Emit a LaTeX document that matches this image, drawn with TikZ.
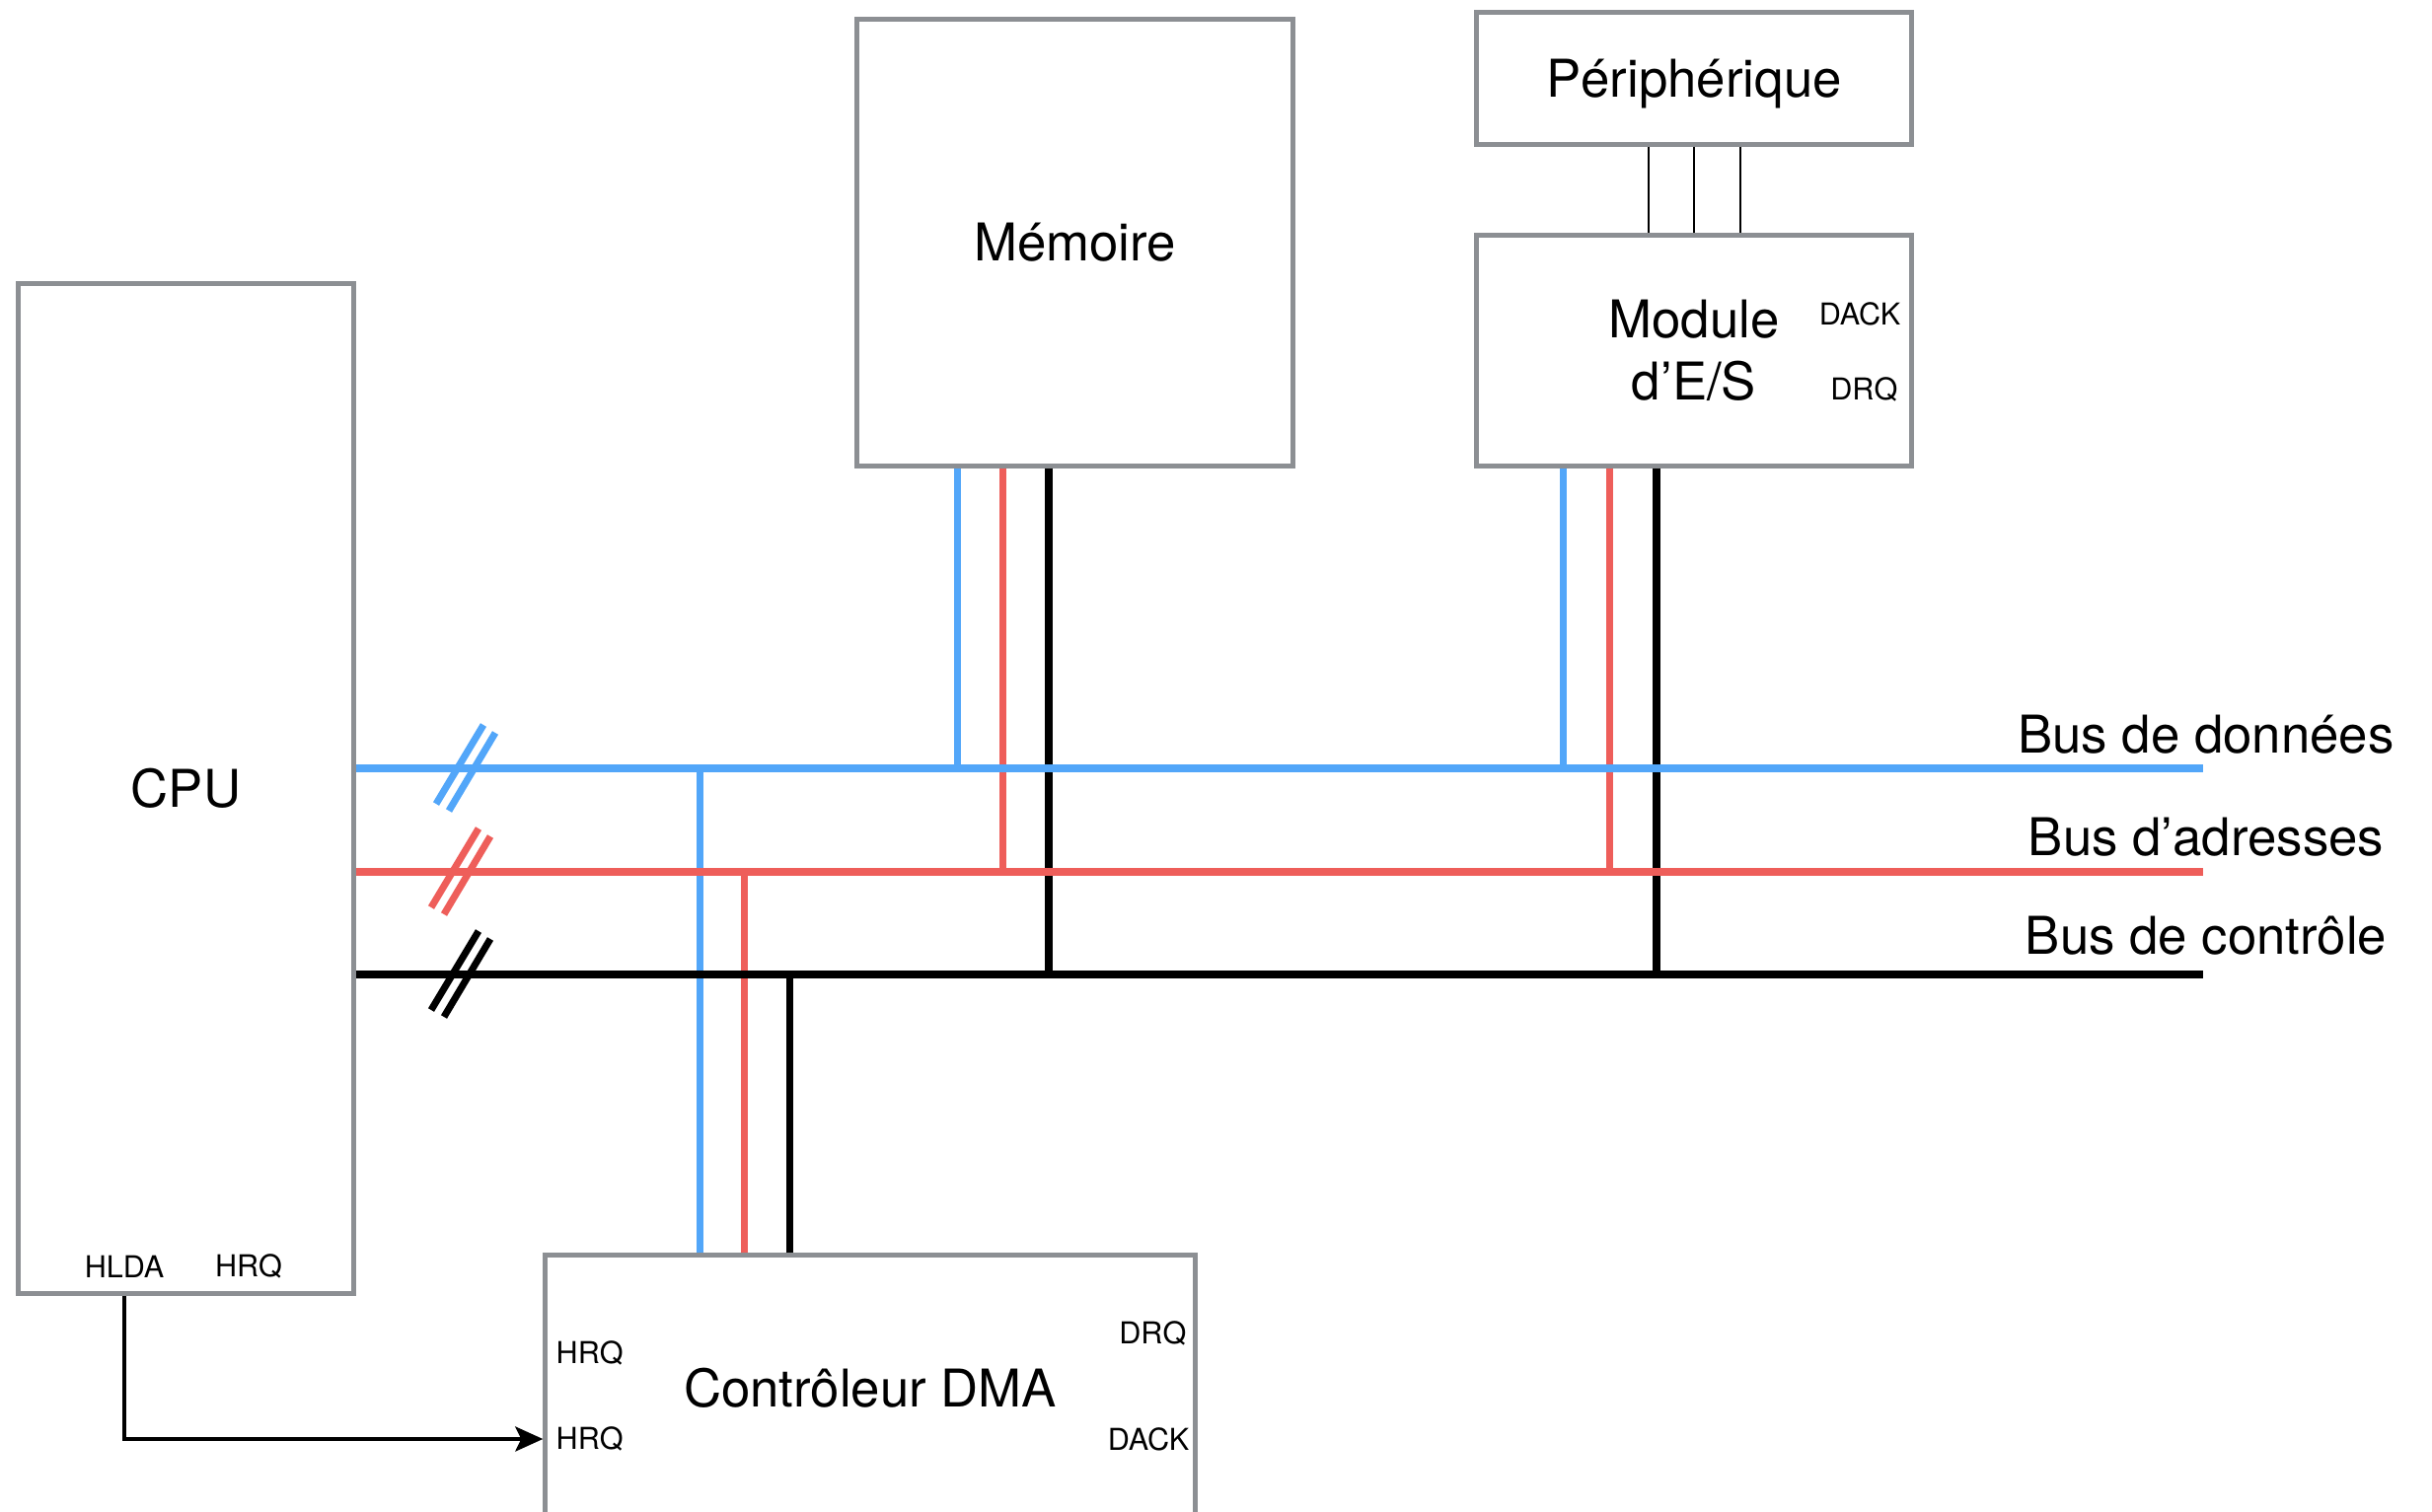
\documentclass[tikz,border=0pt]{standalone}
\usepackage{fontspec}
\setmainfont{TeX Gyre Heros}
\usepackage{tikz}
\usetikzlibrary{arrows.meta, positioning}
\usepackage{xcolor}
\definecolor{busblue}{HTML}{52A6F9}
\definecolor{busred}{HTML}{EE5E5A}
\definecolor{boxgray}{HTML}{8C8F93}

\begin{document}
\begin{tikzpicture}[x=0.01cm, y=-0.01cm, >={Stealth[length=0.28cm, width=0.25cm, inset=0.06cm]}]
    \tikzstyle{block} = [draw=boxgray, line width=1.4pt, inner sep=0pt, align=center, font=\fontsize{15}{18}\selectfont]
    \tikzstyle{sig} = [inner sep=0pt, font=\fontsize{8.7}{10}\selectfont]
    \tikzstyle{bus} = [line width=2pt]
    \tikzstyle{busmark} = [line width=2pt]
    \tikzstyle{buslabel} = [anchor=base, font=\fontsize{15}{18}\selectfont]
    \useasboundingbox (0,0) rectangle (2465,1533);
    \node [block, minimum width=3.39cm, minimum height=10.23cm] at (188.5,799.5) (cpu) {CPU};
    \node [block, minimum width=4.41cm, minimum height=4.52cm] at (1089.5,246) (mem) {Mémoire};
    \node [block, text depth=0pt, minimum width=4.40cm, minimum height=1.33cm] at (1717,79.5) (periph) {Périphérique};
    \node [block, minimum width=4.40cm, minimum height=2.33cm] at (1717,355.5) (io) {Module\\d’E/S};
    \node [block, minimum width=6.58cm, minimum height=2.68cm] at (882,1407) (dma) {Contrôleur DMA};
    \node [sig] at (126,1284) (cpuhlda) {HLDA};
    \node [sig] at (252,1284) (cpuhrq) {HRQ};
    \node [sig, anchor=west] at (563,1372) (dmahrqa) {HRQ};
    \node [sig, anchor=west] at (563,1459) (dmahrqb) {HRQ};
    \node [sig, anchor=east] at (1203,1352) (dmadrq) {DRQ};
    \node [sig, anchor=east] at (1206,1459) (dmadack) {DACK};
    \node [sig, anchor=east] at (1927,318) (iodack) {DACK};
    \node [sig, anchor=east] at (1924,395) (iodrq) {DRQ};
    \coordinate (dend) at (2233,779);
    \coordinate (aend) at (2233,884);
    \coordinate (cend) at (2233,988);
    \foreach \blk/\dx/\col/\bus in {mem/-1.185/busblue/dend, mem/-0.725/busred/aend, mem/-0.265/black/cend,
                                    io/-1.32/busblue/dend, io/-0.85/busred/aend, io/-0.38/black/cend}
        \draw[bus, \col] ([xshift=\dx cm]\blk.south) coordinate (tap) -- (tap |- \bus);
    \foreach \dx/\col/\bus in {-1.72/busblue/dend, -1.27/busred/aend, -0.81/black/cend}
        \draw[bus, \col] ([xshift=\dx cm]dma.north) coordinate (tap) -- (tap |- \bus);
    \foreach \dx in {-0.46, 0, 0.47}
        \draw[line width=0.6pt] ([xshift=\dx cm]periph.south) -- ([xshift=\dx cm]io.north);
    \draw[bus, busblue] (cpu.east |- dend) -- (dend);
    \draw[bus, busred] (cpu.east |- aend) -- (aend);
    \draw[bus] (cpu.east |- cend) -- (cend);
    \node [buslabel] at (2236,763) (dlabel) {Bus de données};
    \node [buslabel] at (2236,867) (alabel) {Bus d’adresses};
    \node [buslabel] at (2236,967) (clabel) {Bus de contrôle};
    \foreach \x/\y/\col in {472/779/busblue, 467/884/busred, 467/988/black} {
        \draw[busmark, \col] (\x-30,\y+36) -- (\x+18,\y-44);
        \draw[busmark, \col] (\x-17,\y+43) -- (\x+30,\y-36);
    }
    \draw[->, line width=1.15pt] (cpu.south -| cpuhlda) |- (dma.west |- dmahrqb);
\end{tikzpicture}
\end{document}
